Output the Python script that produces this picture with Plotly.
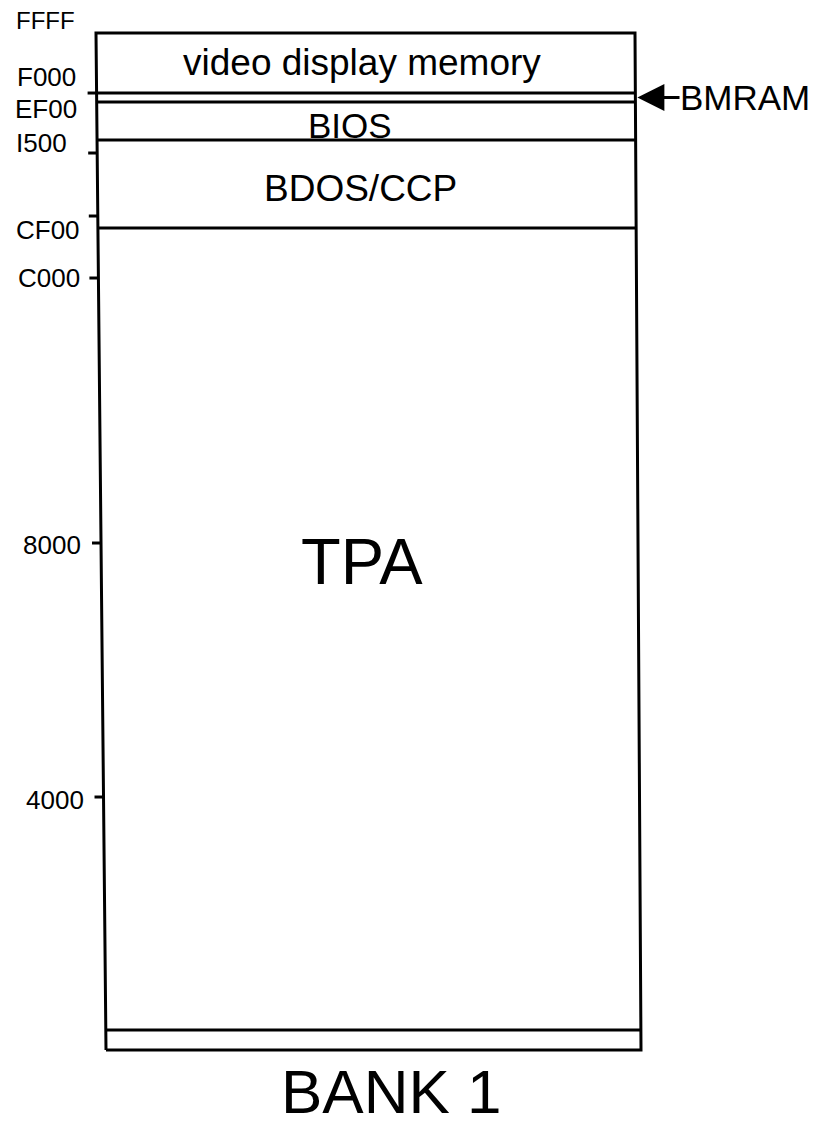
import plotly.graph_objects as go

# ---- data (addresses in bytes, positions as drawn in the original diagram) ----
region_names = ["video display memory", "BMRAM", "BIOS", "BDOS/CCP", "TPA", ""]
region_tops = [65536, 61669, 61089, 58640, 52970, 1289]
region_bottoms = [61669, 61089, 58640, 52970, 1289, 0]

addr_labels = ["FFFF", "F000", "EF00", "I500", "CF00", "C000", "8000", "4000"]
addr_label_pos = [66373, 62700, 60638, 58447, 52841, 49748, 32542, 16110]
tick_marks = [61669, 57803, 53743, 49748, 32671, 16303]

bank_title = "BANK 1"

# ---- layout helpers (drawing geometry of the slightly skewed scan) ----
W, H = 824, 1127
FONT = "Liberation Sans, Arial, Helvetica, sans-serif"
ADDR_MAX = 65536
Y_RANGE = [-4962, 67663]


def left_x(a):
    return 106 - 10 * a / ADDR_MAX


def right_x(a):
    return 641 - 6 * a / ADDR_MAX


fig = go.Figure()

# outer box
fig.add_trace(go.Scatter(
    x=[left_x(0), left_x(ADDR_MAX), right_x(ADDR_MAX), right_x(0), left_x(0)],
    y=[0, ADDR_MAX, ADDR_MAX, 0, 0],
    mode="lines", line=dict(color="black", width=3),
    hoverinfo="skip", showlegend=False,
))

# region boundaries
bounds = sorted(set(region_tops + region_bottoms) - {0, ADDR_MAX})
for b in bounds:
    fig.add_trace(go.Scatter(
        x=[left_x(b), right_x(b)], y=[b, b],
        mode="lines", line=dict(color="black", width=3),
        hoverinfo="skip", showlegend=False,
    ))

# tick marks on the left
for t in tick_marks:
    fig.add_trace(go.Scatter(
        x=[left_x(t) - 9, left_x(t)], y=[t, t],
        mode="lines", line=dict(color="black", width=3),
        hoverinfo="skip", showlegend=False,
    ))

annotations = []
# address labels
label_x = [45, 46, 46, 41, 48, 49, 52, 55]
label_size = [24, 26, 26, 26, 26, 26, 26, 26]
for txt, y, x, s in zip(addr_labels, addr_label_pos, label_x, label_size):
    annotations.append(dict(
        x=x, y=y, xref="x", yref="y", text=txt, showarrow=False,
        xanchor="center", yanchor="middle",
        font=dict(family=FONT, size=s, color="black"),
    ))

# region labels
region_label_pos = {"video display memory": (362, 63667, 37),
                    "BIOS": (350, 59607, 35),
                    "BDOS/CCP": (360, 55515, 37),
                    "TPA": (362, 31479, 65)}
for name in region_names:
    if name in region_label_pos:
        x, y, s = region_label_pos[name]
        annotations.append(dict(
            x=x, y=y, xref="x", yref="y", text=name, showarrow=False,
            xanchor="center", yanchor="middle",
            font=dict(family=FONT, size=s, color="black"),
        ))

# BMRAM pointer
i = region_names.index("BMRAM")
bm_mid = (region_tops[i] + region_bottoms[i]) / 2
annotations.append(dict(
    x=right_x(bm_mid) + 2, y=bm_mid, xref="x", yref="y",
    ax=745, ay=bm_mid, axref="x", ayref="y",
    text="BMRAM", showarrow=True, arrowhead=2, arrowsize=1.8,
    arrowwidth=3, arrowcolor="black", standoff=0, borderpad=0,
    font=dict(family=FONT, size=35, color="black"),
))

# bank title
annotations.append(dict(
    x=391, y=-2700, xref="x", yref="y", text=bank_title, showarrow=False,
    xanchor="center", yanchor="middle",
    font=dict(family=FONT, size=62, color="black"),
))

fig.update_layout(
    width=W, height=H,
    margin=dict(l=0, r=0, t=0, b=0),
    paper_bgcolor="white", plot_bgcolor="white",
    xaxis=dict(range=[0, W], visible=False, fixedrange=True),
    yaxis=dict(range=Y_RANGE, visible=False, fixedrange=True),
    annotations=annotations,
    showlegend=False,
)

fig.write_html(
    "out.html",
    config={"displayModeBar": False},
    post_script="document.body.style.margin='0';document.body.style.padding='0';"
                "document.body.style.overflow='hidden';",
)
